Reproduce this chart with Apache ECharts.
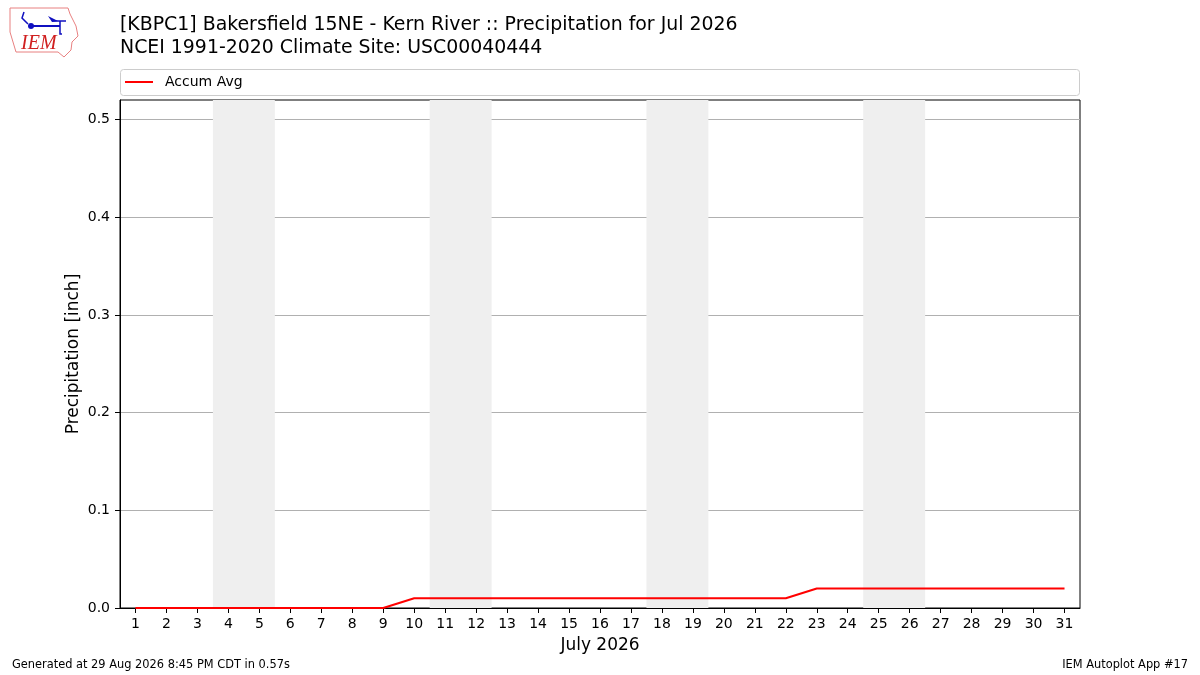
<!DOCTYPE html>
<html><head><meta charset="utf-8">
<script src="https://cdn.jsdelivr.net/npm/echarts@6/dist/echarts.min.js"></script>
<style>html,body{margin:0;padding:0;background:#fff}#c{width:1200px;height:675px}</style>
</head><body><div id="c"></div>
<script>
var days = [1,2,3,4,5,6,7,8,9,10,11,12,13,14,15,16,17,18,19,20,21,22,23,24,25,26,27,28,29,30,31];
var accumAvg = [0,0,0,0,0,0,0,0,0,0.01,0.01,0.01,0.01,0.01,0.01,0.01,0.01,0.01,0.01,0.01,0.01,0.01,0.02,0.02,0.02,0.02,0.02,0.02,0.02,0.02,0.02];
var weekends = [[3.5,5.5],[10.5,12.5],[17.5,19.5],[24.5,26.5]];
var yTicks = [0,0.1,0.2,0.3,0.4,0.5];
var titleLines = ['[KBPC1] Bakersfield 15NE - Kern River :: Precipitation for Jul 2026','NCEI 1991-2020 Climate Site: USC00040444'];

var font = 'DejaVu Sans';
var chart = echarts.init(document.getElementById('c'));
chart.setOption({
  animation:false,
  textStyle:{fontFamily:font},
  title:{text:titleLines.join('\n'),left:120,top:14,padding:0,textStyle:{fontFamily:font,fontSize:18.9,fontWeight:'normal',color:'#000',lineHeight:23}},
  legend:{left:120,top:70,itemWidth:28,itemHeight:2,itemGap:10,icon:'rect',textStyle:{fontFamily:font,fontSize:14,color:'#000',padding:[0,0,0,7]},data:[{name:'Accum Avg',itemStyle:{color:'red'}}]},
  grid:{left:120,right:120,top:100,bottom:67,show:true,borderColor:'#000',borderWidth:1,backgroundColor:'transparent'},
  xAxis:{type:'value',min:0.5,max:31.5,name:'July 2026',nameLocation:'middle',nameGap:29,
    nameTextStyle:{fontFamily:font,fontSize:17,color:'#000'},
    axisLine:{show:true,onZero:false,lineStyle:{color:'#000'}},
    axisTick:{show:true,length:5,lineStyle:{color:'#000'},customValues:days},
    axisLabel:{show:true,color:'#000',fontSize:14,margin:9,fontFamily:font,customValues:days},
    splitLine:{show:false}},
  yAxis:{type:'value',min:0,max:0.52,interval:0.1,name:'Precipitation [inch]',nameLocation:'middle',nameGap:38,nameMoveOverlap:false,
    nameTextStyle:{fontFamily:font,fontSize:17,color:'#000'},
    axisLine:{show:true,lineStyle:{color:'#000'}},
    axisTick:{show:true,length:5,lineStyle:{color:'#000'},customValues:yTicks},
    axisLabel:{color:'#000',fontSize:14,margin:10,fontFamily:font,customValues:yTicks,formatter:function(v){return v.toFixed(1);}},
    splitLine:{show:true,lineStyle:{color:'#b0b0b0',width:1}}},
  series:[{name:'Accum Avg',type:'line',data:days.map(function(d,i){return [d,accumAvg[i]];}),
    showSymbol:false,symbol:'none',lineStyle:{color:'red',width:2},itemStyle:{color:'red'},z:5,
    markArea:{silent:true,itemStyle:{color:'#efefef'},data:weekends.map(function(w){return [{xAxis:w[0]},{xAxis:w[1]}];})}}],
  graphic:[
    {type:'rect',shape:{x:120.5,y:69.5,width:959,height:26,r:3},style:{fill:'none',stroke:'#cccccc',lineWidth:1},z:-1},
    {type:'text',left:12,top:660,style:{text:'Generated at 29 Aug 2026 8:45 PM CDT in 0.57s',font:'11.4px "DejaVu Sans"',fill:'#000'}},
    {type:'text',right:12,top:660,style:{text:'IEM Autoplot App #17',font:'11.4px "DejaVu Sans"',fill:'#000',align:'right'}},
    {type:'polyline',shape:{points:[[10,8],[68,8],[70,14],[76,26],[78,36],[72,42],[71,50],[64,57],[58,52],[16,52],[13,42],[10,32],[10,8]]},style:{fill:'none',stroke:'#e88080',lineWidth:1}},
    {type:'polyline',shape:{points:[[31,26],[60,26]]},style:{stroke:'#1010c0',lineWidth:2}},
    {type:'circle',shape:{cx:31,cy:26,r:3},style:{fill:'#1010c0'}},
    {type:'polygon',shape:{points:[[48,16],[58,21],[52,22]]},style:{fill:'#1010c0'}},
    {type:'polyline',shape:{points:[[52,21],[66,21]]},style:{stroke:'#1010c0',lineWidth:1.5}},
    {type:'polyline',shape:{points:[[60,21],[60,34],[62,34]]},style:{stroke:'#1010c0',lineWidth:1.5,fill:'none'}},
    {type:'polyline',shape:{points:[[24,12],[22,18],[28,24]]},style:{stroke:'#1010c0',lineWidth:1.5,fill:'none'}},
    {type:'text',left:21,top:34,style:{text:'IEM',font:'italic 20px "Liberation Serif"',fill:'#d02020'}}
  ]
});
</script></body></html>
